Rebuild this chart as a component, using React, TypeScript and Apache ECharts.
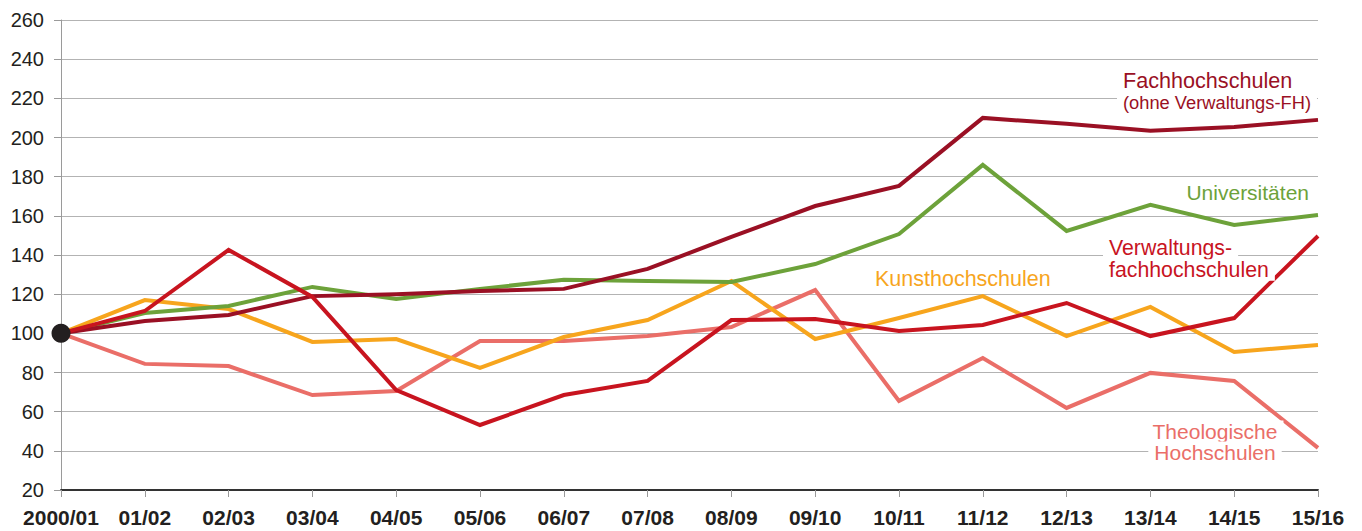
import React, { useEffect, useRef } from "react";
import * as echarts from "echarts";

const categories = ["2000/01", "01/02", "02/03", "03/04", "04/05", "05/06", "06/07", "07/08", "08/09", "09/10", "10/11", "11/12", "12/13", "13/14", "14/15", "15/16"];

const fachhochschulen = [100, 106.3, 109.4, 119, 120, 121.6, 122.7, 132.9, 149.2, 165, 175.3, 210, 207, 203.4, 205.4, 209];
const universitaeten = [100, 110.4, 114, 123.7, 117.5, 122.7, 127.3, 126.7, 126.2, 135.4, 150.7, 186, 152.3, 165.6, 155.3, 160.4];
const kunsthochschulen = [100, 117, 112.4, 95.6, 97.1, 82.3, 98.1, 106.8, 126.7, 97.1, 107.8, 119, 98.6, 113.5, 90.5, 94];
const verwaltungsfh = [100, 111.4, 142.6, 118.6, 71, 53.2, 68.5, 75.7, 106.8, 107.3, 101.2, 104.3, 115.5, 98.6, 107.8, 149.7];
const theologische = [100, 84.4, 83.3, 68.5, 70.6, 96.1, 96.1, 98.6, 103.2, 122.1, 65.5, 87.4, 61.9, 79.8, 75.7, 41.5];
const basePoint = [[0, 100]];

const C_FH = "#9a1024";
const C_UNI = "#6da23a";
const C_KUNST = "#f7a51d";
const C_VFH = "#c8141f";
const C_THEO = "#ea6e68";

const FONT = "'Liberation Sans', Arial, Helvetica, sans-serif";

export default function App() {
  const ref = useRef<HTMLDivElement>(null);
  useEffect(() => {
    document.body.style.margin = "0";
    const chart = echarts.init(ref.current!, null, { renderer: "svg" });
    const line = (name: string, data: number[], color: string, z: number) => ({
      name,
      type: "line",
      data,
      symbol: "none",
      z,
      lineStyle: { color, width: 4, join: "miter" },
      itemStyle: { color },
    });
    const label = (text: string, x: number, y: number, color: string, size: number, align: string = "left") => ({
      type: "text",
      x,
      y,
      z: 100,
      style: {
        text,
        fill: color,
        fontSize: size,
        lineHeight: size,
        fontFamily: FONT,
        align,
        verticalAlign: "middle",
        backgroundColor: "#ffffff",
        padding: [0, 6],
      },
    });
    chart.setOption({
      animation: false,
      backgroundColor: "#ffffff",
      grid: { left: 61, right: 44, top: 20, bottom: 41, containLabel: false },
      xAxis: {
        type: "category",
        data: categories,
        boundaryGap: false,
        axisLine: { show: true, lineStyle: { color: "#333333", width: 2 } },
        axisTick: { show: true, alignWithLabel: true, length: 7, lineStyle: { color: "#999999", width: 1 } },
        axisLabel: { color: "#231f20", fontSize: 21, fontWeight: "bold", fontFamily: FONT, margin: 17, interval: 0 },
        splitLine: { show: false },
      },
      yAxis: {
        type: "value",
        min: 20,
        max: 260,
        interval: 20,
        axisLine: { show: true, lineStyle: { color: "#9a9a9a", width: 1 } },
        axisTick: { show: true, length: 7, lineStyle: { color: "#9a9a9a", width: 1 } },
        axisLabel: { color: "#231f20", fontSize: 20, fontFamily: FONT, margin: 17 },
        splitLine: { show: true, lineStyle: { color: "#b3b3b3", width: 1 } },
      },
      series: [
        line("Theologische Hochschulen", theologische, C_THEO, 2),
        line("Kunsthochschulen", kunsthochschulen, C_KUNST, 3),
        line("Universitäten", universitaeten, C_UNI, 4),
        line("Fachhochschulen", fachhochschulen, C_FH, 5),
        line("Verwaltungsfachhochschulen", verwaltungsfh, C_VFH, 6),
        {
          name: "Basis",
          type: "scatter",
          data: basePoint,
          symbol: "circle",
          symbolSize: 19,
          z: 10,
          itemStyle: { color: "#231f20", opacity: 1 },
        },
      ],
      graphic: [
        label("Fachhochschulen", 1117, 80, C_FH, 21.6),
        label("(ohne Verwaltungs-FH)", 1117, 102, C_FH, 18.3),
        label("Universitäten", 1315, 192, C_UNI, 21, "right"),
        label("Verwaltungs-", 1103, 248, C_VFH, 21.3),
        label("fachhochschulen", 1103, 270, C_VFH, 21.3),
        label("Kunsthochschulen", 869, 279, C_KUNST, 21.5),
        label("Theologische", 1215, 431, C_THEO, 21, "center"),
        label("Hochschulen", 1215, 452, C_THEO, 21, "center"),
      ],
    });
    return () => chart.dispose();
  }, []);
  return <div ref={ref} style={{ position: "absolute", left: 0, top: 0, width: 1362, height: 531 }} />;
}
